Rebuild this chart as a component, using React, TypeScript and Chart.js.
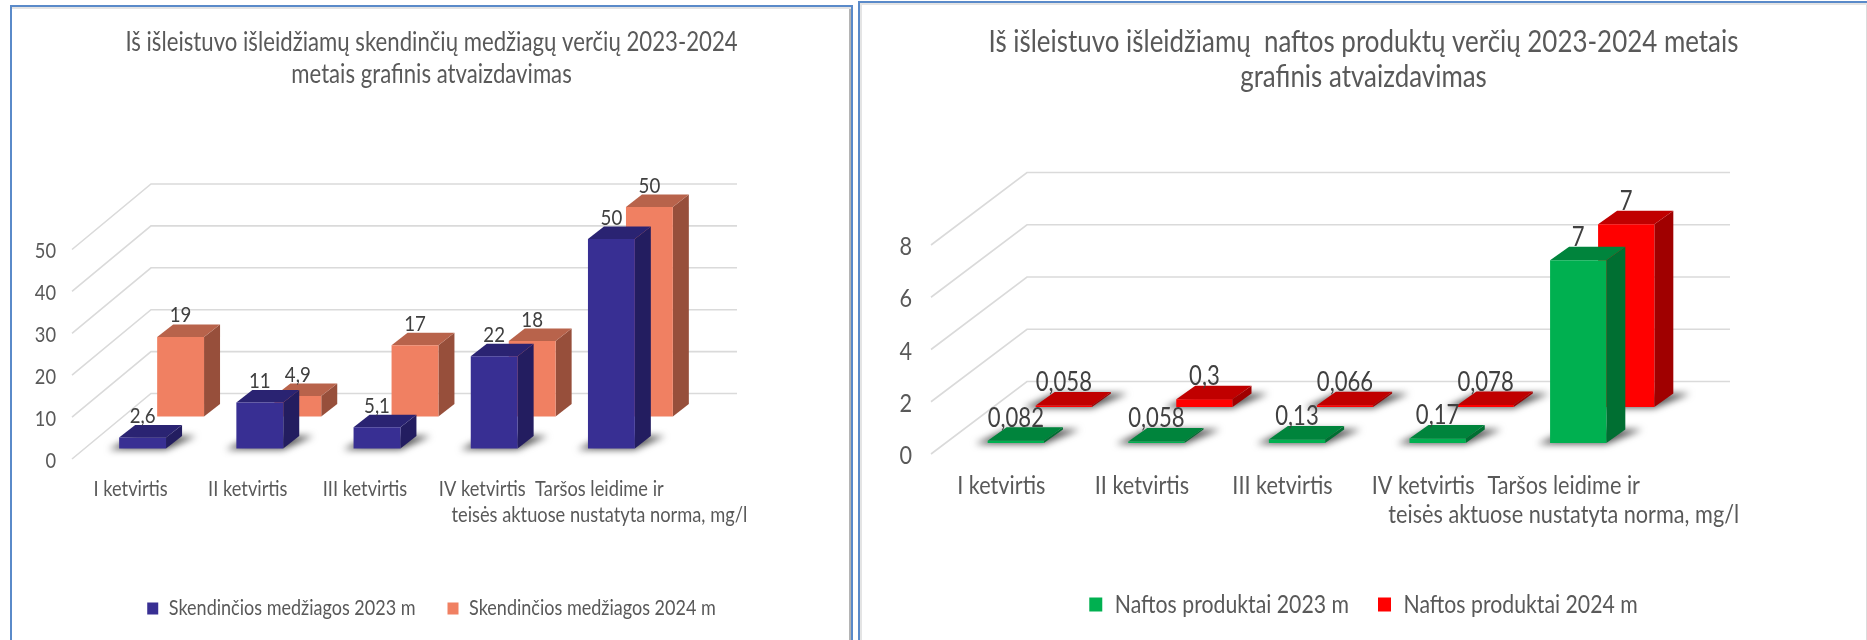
import React, { useEffect, useRef } from "react";
import { Chart, registerables } from "chart.js";

Chart.register(...registerables);

// ---------- data ----------
const categories = [
  "I ketvirtis",
  "II ketvirtis",
  "III ketvirtis",
  "IV ketvirtis",
  ["Taršos leidime ir", "teisės aktuose nustatyta norma, mg/l"],
];
const skendincios2023 = [2.6, 11, 5.1, 22, 50];
const skendincios2024 = [19, 4.9, 17, 18, 50];
const naftos2023 = [0.082, 0.058, 0.13, 0.17, 7];
const naftos2024 = [0.058, 0.3, 0.066, 0.078, 7];
const titleLeft = [
  "Iš išleistuvo išleidžiamų skendinčių medžiagų verčių 2023-2024",
  "metais grafinis atvaizdavimas",
];
const titleRight = [
  "Iš išleistuvo išleidžiamų  naftos produktų verčių 2023-2024 metais",
  "grafinis atvaizdavimas",
];

const FONT = 'Lato, "Liberation Sans", sans-serif';
const TEXT = "#595959";
const SQUEEZE = 0.85;

type Face = { front: string; top: string; side: string; shadow: boolean };

const leftConfig = {
  panel: { left: 10, top: 5, right: 853, shadow: "inset 0 2px #e4e4e4, inset -2px 0 #b4b4b4" },
  plot: { left: 72, right: 658, top: 249.5, bottom: 459 },
  depth: { dx: 79, dy: 65.5 },
  rows: [
    { sx: 12, sy: 10.5 },
    { sx: 50, sy: 42.5 },
  ],
  thick: { dx: 16, dy: 12.5 },
  yMax: 50,
  yStep: 10,
  title: { lines: titleLeft, size: 26.1, lh: 32, y1: 43 },
  tickFont: 21.5,
  tick: { lh: 26.5, y1: 489, pad: 16 },
  labelFont: 22,
  legend: { size: 21.2, y: 608.5, gap: 32, box: 11 },
  series: [
    { label: "Skendinčios medžiagos 2023 m", data: skendincios2023, face: { front: "#382f93", top: "#2a2372", side: "#231d60", shadow: true } as Face },
    { label: "Skendinčios medžiagos 2024 m", data: skendincios2024, face: { front: "#f08062", top: "#b8634b", side: "#974f3b", shadow: false } as Face },
  ],
};

const rightConfig = {
  panel: { left: 858, top: 1, right: 1869, shadow: "inset 2px 2px #e4e4e4, inset -1px 0 #dcdcdc" },
  plot: { left: 931, right: 1634, top: 245, bottom: 454 },
  depth: { dx: 96, dy: 72.5 },
  rows: [
    { sx: 14.5, sy: 11 },
    { sx: 62.5, sy: 47 },
  ],
  thick: { dx: 19, dy: 13.5 },
  yMax: 8,
  yStep: 2,
  title: { lines: titleRight, size: 30.5, lh: 35, y1: 42 },
  tickFont: 25.5,
  tick: { lh: 29, y1: 486, pad: 19 },
  labelFont: 26,
  legend: { size: 25, y: 604.5, gap: 29, box: 13 },
  series: [
    { label: "Naftos produktai 2023 m", data: naftos2023, face: { front: "#00b050", top: "#00843c", side: "#006f32", shadow: true } as Face },
    { label: "Naftos produktai 2024 m", data: naftos2024, face: { front: "#ff0000", top: "#c00000", side: "#a00000", shadow: true } as Face },
  ],
};

function poly(ctx: CanvasRenderingContext2D, pts: number[][], fill: string) {
  ctx.beginPath();
  pts.forEach((p, i) => (i ? ctx.lineTo(p[0], p[1]) : ctx.moveTo(p[0], p[1])));
  ctx.closePath();
  ctx.fillStyle = fill;
  ctx.fill();
}

function makePlugin(cfg: any) {
  return {
    id: "bars3d",
    beforeInit(chart: any) {
      const ctx = chart.ctx;
      const fill = ctx.fillText.bind(ctx);
      const measure = ctx.measureText.bind(ctx);
      ctx.fillText = (t: string, x: number, y: number) => {
        ctx.save();
        ctx.translate(x, y);
        ctx.scale(SQUEEZE, 1);
        fill(t, 0, 0);
        ctx.restore();
      };
      ctx.measureText = (t: string) => {
        const m = measure(t);
        return { width: m.width * SQUEEZE };
      };
    },
    beforeDatasetsDraw(chart: any) {
      const ctx: CanvasRenderingContext2D = chart.ctx;
      const y = chart.scales.y;
      const { left, right } = chart.chartArea;
      const { dx, dy } = cfg.depth;
      ctx.save();
      ctx.strokeStyle = "#dadada";
      ctx.lineWidth = 1.6;
      y.ticks.forEach((_: any, i: number) => {
        const py = y.getPixelForTick(i);
        ctx.beginPath();
        ctx.moveTo(left, py);
        ctx.lineTo(left + dx, py - dy);
        ctx.lineTo(right + dx, py - dy);
        ctx.stroke();
      });
      const items: { x: number; y: number; text: string }[] = [];
      for (let d = cfg.series.length - 1; d >= 0; d--) {
        const s = cfg.series[d];
        const row = cfg.rows[d];
        const meta = chart.getDatasetMeta(d);
        const faces: Face = s.face;
        const t = cfg.thick;
        const bars = meta.data.map((el: any) => {
          const p = el.getProps(["x", "y", "base", "width"], true);
          return {
            l: p.x - p.width / 2 + row.sx,
            r: p.x + p.width / 2 + row.sx,
            top: p.y - row.sy,
            bot: p.base - row.sy,
            w: p.width,
          };
        });
        if (faces.shadow) {
          ctx.save();
          ctx.filter = "blur(3.5px)";
          bars.forEach((b: any) => {
            poly(
              ctx,
              [
                [b.l - b.w * 0.22, b.bot + 1],
                [b.r, b.bot + 1],
                [b.r + t.dx + b.w * 0.3, b.bot - t.dy],
                [b.l + t.dx, b.bot - t.dy],
              ],
              "#555555"
            );
          });
          ctx.restore();
        }
        bars.forEach((b: any, i: number) => {
          poly(ctx, [[b.r, b.top], [b.r + t.dx, b.top - t.dy], [b.r + t.dx, b.bot - t.dy], [b.r, b.bot]], faces.side);
          poly(ctx, [[b.l, b.top], [b.l + t.dx, b.top - t.dy], [b.r + t.dx, b.top - t.dy], [b.r, b.top]], faces.top);
          poly(ctx, [[b.l, b.top], [b.r, b.top], [b.r, b.bot], [b.l, b.bot]], faces.front);
          items.push({
            x: (b.l + b.r) / 2,
            y: b.top - t.dy - 9,
            text: String(s.data[i]).replace(".", ","),
          });
        });
      }
      ctx.fillStyle = "#404040";
      ctx.font = `${cfg.labelFont}px ${FONT}`;
      ctx.textAlign = "center";
      ctx.textBaseline = "middle";
      items.forEach((it) => ctx.fillText(it.text, it.x, it.y));
      ctx.restore();
      return false;
    },
  };
}

function Panel({ cfg }: { cfg: any }) {
  const ref = useRef<HTMLCanvasElement | null>(null);
  const canvasLeft = cfg.panel.left + 2;
  const canvasTop = cfg.panel.top + 2;
  const width = cfg.panel.right - cfg.panel.left - 4;
  const legendCenter = cfg.legend.y - canvasTop;
  // Chart.js legend height: padding + font size + 10; text centre sits size/2 + 10 above the bottom
  const height = Math.round(legendCenter + cfg.legend.size / 2 + 10);
  useEffect(() => {
    const plot = {
      left: cfg.plot.left - canvasLeft,
      right: cfg.plot.right - canvasLeft,
      top: cfg.plot.top - canvasTop,
      bottom: cfg.plot.bottom - canvasTop,
    };
    const legendH = cfg.legend.gap + cfg.legend.size + 10;
    const titleTopPad = cfg.title.y1 - canvasTop - cfg.title.lh / 2;
    const titleBottomPad = plot.top - titleTopPad - 2 * cfg.title.lh;
    const chart: any = new Chart(ref.current as HTMLCanvasElement, {
      type: "bar",
      data: {
        labels: categories as any,
        datasets: cfg.series.map((s: any) => ({
          label: s.label,
          data: s.data,
          backgroundColor: s.face.front,
          grouped: false,
          categoryPercentage: 1,
          barPercentage: 0.4,
        })),
      },
      options: {
        responsive: false,
        animation: false,
        devicePixelRatio: 1,
        layout: { padding: 0 },
        scales: {
          x: {
            type: "category",
            grid: { display: false, drawTicks: false },
            border: { display: false },
            ticks: {
              autoSkip: false,
              maxRotation: 0,
              minRotation: 0,
              color: TEXT,
              padding: cfg.tick.y1 - cfg.plot.bottom - cfg.tick.lh / 2,
              font: { family: FONT, size: cfg.tickFont, lineHeight: cfg.tick.lh + "px" },
            },
            afterFit(scale: any) {
              scale.height = height - legendH - plot.bottom;
            },
          },
          y: {
            type: "linear",
            min: 0,
            max: cfg.yMax,
            grid: { display: false, drawTicks: false },
            border: { display: false },
            ticks: {
              stepSize: cfg.yStep,
              color: TEXT,
              padding: cfg.tick.pad,
              labelOffset: 2,
              font: { family: FONT, size: cfg.tickFont },
            },
            afterFit(scale: any) {
              scale.width = plot.left;
            },
          },
          wall: {
            type: "linear",
            position: "right",
            grid: { display: false, drawTicks: false },
            border: { display: false },
            ticks: { display: false },
            afterFit(scale: any) {
              scale.width = width - plot.right;
            },
          },
        },
        plugins: {
          title: {
            display: true,
            text: cfg.title.lines,
            color: TEXT,
            padding: { top: titleTopPad, bottom: titleBottomPad },
            font: { family: FONT, size: cfg.title.size, weight: "normal", lineHeight: cfg.title.lh + "px" },
          },
          legend: {
            display: true,
            position: "bottom",
            labels: {
              color: TEXT,
              boxWidth: cfg.legend.box,
              boxHeight: cfg.legend.box + 1,
              padding: cfg.legend.gap,
              font: { family: FONT, size: cfg.legend.size },
            },
          },
          tooltip: { enabled: false },
        },
      } as any,
      plugins: [makePlugin(cfg)],
    });
    return () => chart.destroy();
  }, []);
  return (
    <div
      style={{
        position: "absolute",
        left: cfg.panel.left,
        top: cfg.panel.top,
        width: cfg.panel.right - cfg.panel.left - 4,
        height: 700,
        border: "2px solid #5a8ac9",
        boxShadow: cfg.panel.shadow,
        overflow: "hidden",
        background: "#fff",
      }}
    >
      <canvas ref={ref} width={width} height={height} style={{ display: "block" }} />
    </div>
  );
}

export default function App() {
  return (
    <div
      style={{
        position: "fixed",
        left: 0,
        top: 0,
        width: 1867,
        height: 640,
        overflow: "hidden",
        background: "#fff",
      }}
    >
      <Panel cfg={leftConfig} />
      <Panel cfg={rightConfig} />
    </div>
  );
}
